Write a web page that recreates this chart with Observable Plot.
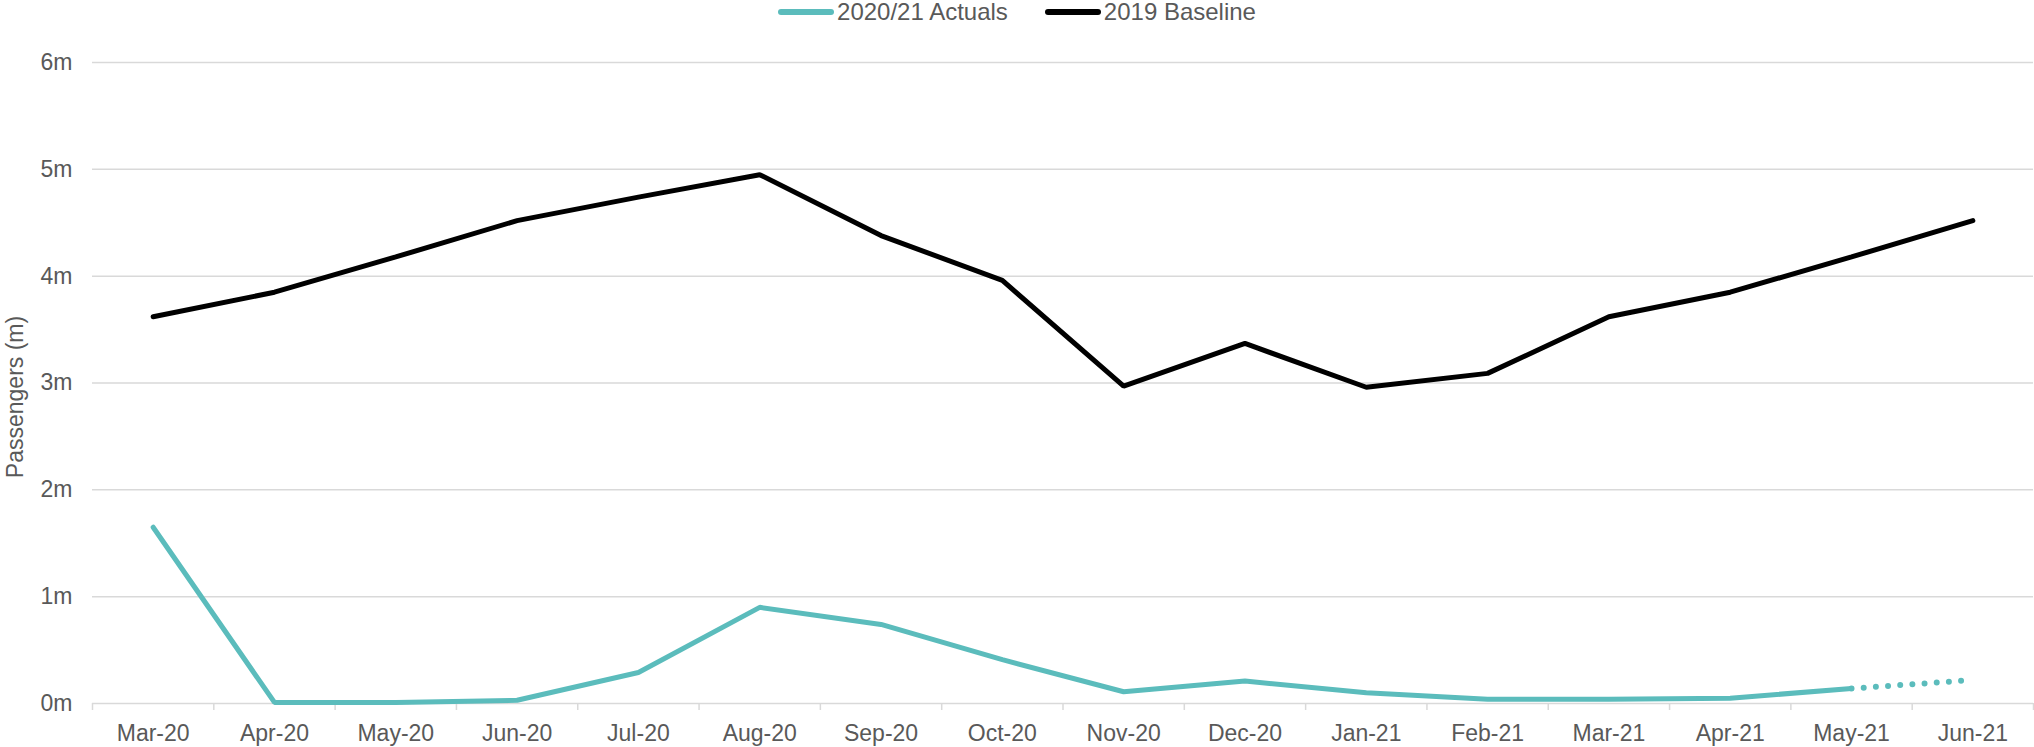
<!DOCTYPE html>
<html>
<head>
<meta charset="utf-8">
<script src="https://cdn.jsdelivr.net/npm/d3@7"></script>
<script src="https://cdn.jsdelivr.net/npm/@observablehq/plot@0.6"></script>
<style>
  body { margin: 0; background: #fff; font-family: "Liberation Sans", Arial, sans-serif; }
  #legend { height: 24px; display: flex; justify-content: center; align-items: center; gap: 37px;
            color: #595959; font-size: 24px; line-height: 24px; }
  .item { display: flex; align-items: center; white-space: nowrap; }
  .sw { display: inline-block; width: 56px; height: 6px; border-radius: 3px; margin-right: 3px; }
</style>
</head>
<body>
<div id="legend"></div>
<div id="chart"></div>
<script>
const months = ["Mar-20","Apr-20","May-20","Jun-20","Jul-20","Aug-20","Sep-20","Oct-20",
                "Nov-20","Dec-20","Jan-21","Feb-21","Mar-21","Apr-21","May-21","Jun-21"];
const baseline = [3.62, 3.85, 4.18, 4.52, 4.74, 4.95, 4.38, 3.96,
                  2.97, 3.37, 2.96, 3.09, 3.62, 3.85, 4.18, 4.52];
const actuals = [1.65, 0.01, 0.01, 0.03, 0.29, 0.90, 0.74, 0.41,
                 0.11, 0.21, 0.10, 0.04, 0.04, 0.05, 0.14];
const projectedMonths = ["May-21", "Jun-21"];
const projected = [0.14, 0.22];
const seriesNames = ["2020/21 Actuals", "2019 Baseline"];
const seriesColors = ["#5bbcbc", "#000000"];
const yTicks = [0, 1, 2, 3, 4, 5, 6];
const yTitle = "Passengers (m)";

// legend
const legend = document.getElementById("legend");
seriesNames.forEach((name, i) => {
  const item = document.createElement("div");
  item.className = "item";
  const sw = document.createElement("span");
  sw.className = "sw";
  sw.style.background = seriesColors[i];
  const label = document.createElement("span");
  label.textContent = name;
  item.appendChild(sw);
  item.appendChild(label);
  legend.appendChild(item);
});

const monthIndex = m => months.indexOf(m);
const boundaries = months.map((_, i) => i - 0.5).concat([months.length - 0.5]);
const teal = seriesColors[0];
const grid = "#d9d9d9";

const chart = Plot.plot({
  width: 2034,
  height: 723,
  marginLeft: 92,
  marginRight: 1,
  marginTop: 38,
  marginBottom: 44,
  style: { fontFamily: "'Liberation Sans', Arial, sans-serif", fontSize: "23px", color: "#595959", background: "#fff", overflow: "visible" },
  x: { domain: [-0.5, months.length - 0.5], ticks: months.map((_, i) => i), tickFormat: i => months[i],
       tickSize: 0, tickPadding: 21, label: null },
  y: { domain: [0, 6], ticks: yTicks, tickFormat: d => d + "m", tickSize: 0, tickPadding: 20, label: null },
  marks: [
    Plot.ruleY(yTicks, { stroke: grid, strokeWidth: 1.5 }),
    Plot.ruleX(boundaries, { y1: 0, y2: 0, insetBottom: -7, stroke: grid, strokeWidth: 1.5 }),
    Plot.line(baseline, { x: (d, i) => i, y: d => d, stroke: seriesColors[1], strokeWidth: 5,
                          strokeLinecap: "round", strokeLinejoin: "miter" }),
    Plot.line(actuals, { x: (d, i) => i, y: d => d, stroke: teal, strokeWidth: 5,
                         strokeLinecap: "round", strokeLinejoin: "miter" }),
    Plot.line(projected, { x: (d, i) => monthIndex(projectedMonths[i]), y: d => d, stroke: teal, strokeWidth: 6,
                           strokeDasharray: "0 12.2", strokeLinecap: "round" }),
    Plot.text([yTitle], { text: d => d, frameAnchor: "left", textAnchor: "middle", lineAnchor: "middle",
                          dx: -77, dy: 14, rotate: -90, fontSize: 23, fill: "#595959" })
  ]
});
document.getElementById("chart").appendChild(chart);
</script>
</body>
</html>
